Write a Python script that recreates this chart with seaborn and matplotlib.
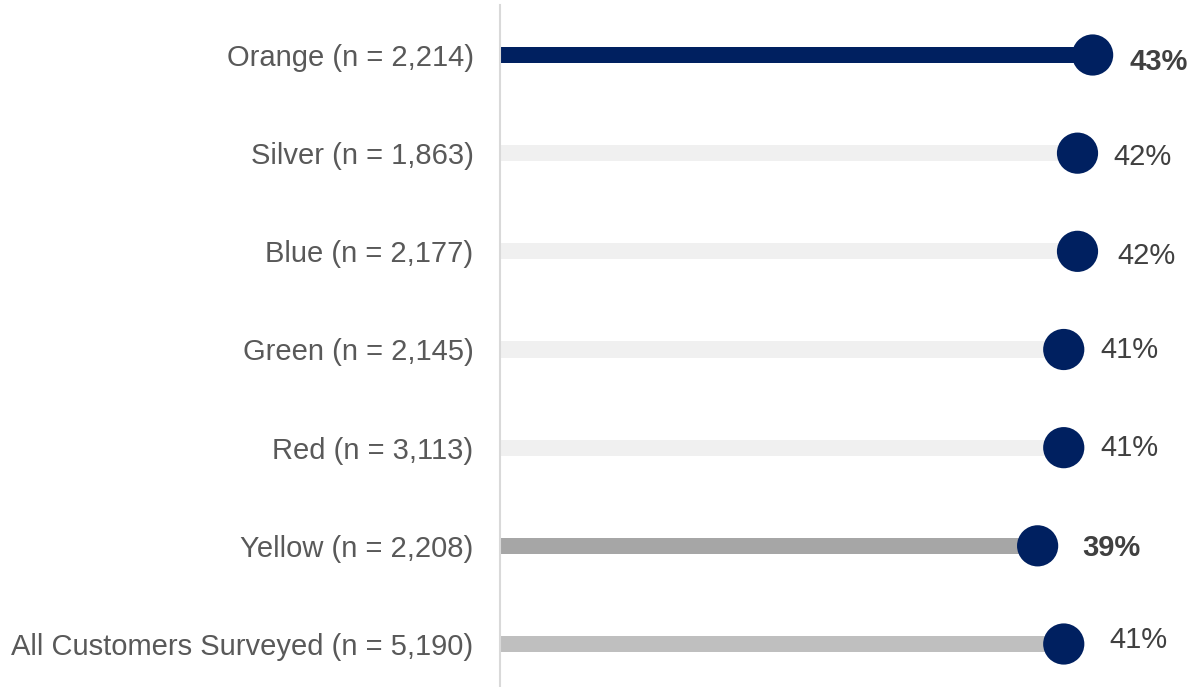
import matplotlib
matplotlib.use("Agg")
import matplotlib.pyplot as plt
import seaborn as sns
import pandas as pd

categories = ["Orange (n = 2,214)", "Silver (n = 1,863)", "Blue (n = 2,177)",
              "Green (n = 2,145)", "Red (n = 3,113)", "Yellow (n = 2,208)",
              "All Customers Surveyed (n = 5,190)"]
values = [43.1, 42.0, 42.0, 41.0, 41.0, 39.1, 41.0]
value_labels = ["43%", "42%", "42%", "41%", "41%", "39%", "41%"]
bold_flags = [True, False, False, False, False, True, False]
bar_colors = ["#002060", "#F0F0F0", "#F0F0F0", "#F0F0F0", "#F0F0F0", "#A6A6A6", "#BFBFBF"]
# small per-label offsets (px) to mimic original placement
label_dx = [37, 36, 40, 37, 37, 45, 46]
label_dy = [7, 4, 5, 1, 0, 2, -4]

df = pd.DataFrame({"category": categories, "value": values})

sns.set_style("white")
plt.rcParams["font.family"] = ["Liberation Sans", "DejaVu Sans"]

fig = plt.figure(figsize=(11.94, 6.87), dpi=100)
ax = fig.add_axes([500 / 1194, 0.0, 1 - 500 / 1194, 1 - 5 / 687])

sns.barplot(data=df, x="value", y="category", hue="category", palette=bar_colors,
            orient="h", width=0.165, legend=False, ax=ax, saturation=1, linewidth=0)
sns.scatterplot(data=df, x="value", y="category", color="#002060", s=880,
                edgecolor="none", ax=ax, zorder=5, legend=False)

for i, (v, lab, b) in enumerate(zip(values, value_labels, bold_flags)):
    ax.annotate(lab, xy=(v, i), xytext=(label_dx[i] * 0.72, -label_dy[i] * 0.72),
                textcoords="offset points", ha="left", va="center",
                fontsize=21, fontweight="bold" if b else "normal",
                color="#404040")

ax.set_xlim(0, 694 / 13.75)
ax.set_ylim(6 + 43 / 98.17, -50 / 98.17)
ax.set_xlabel("")
ax.set_ylabel("")
ax.set_xticks([])
ax.tick_params(axis="y", length=0, pad=19, labelsize=21, labelcolor="#595959")
for s in ["top", "right", "bottom"]:
    ax.spines[s].set_visible(False)
ax.spines["left"].set_color("#D9D9D9")
ax.spines["left"].set_linewidth(1.5)

fig.savefig("out.png", dpi=100)
